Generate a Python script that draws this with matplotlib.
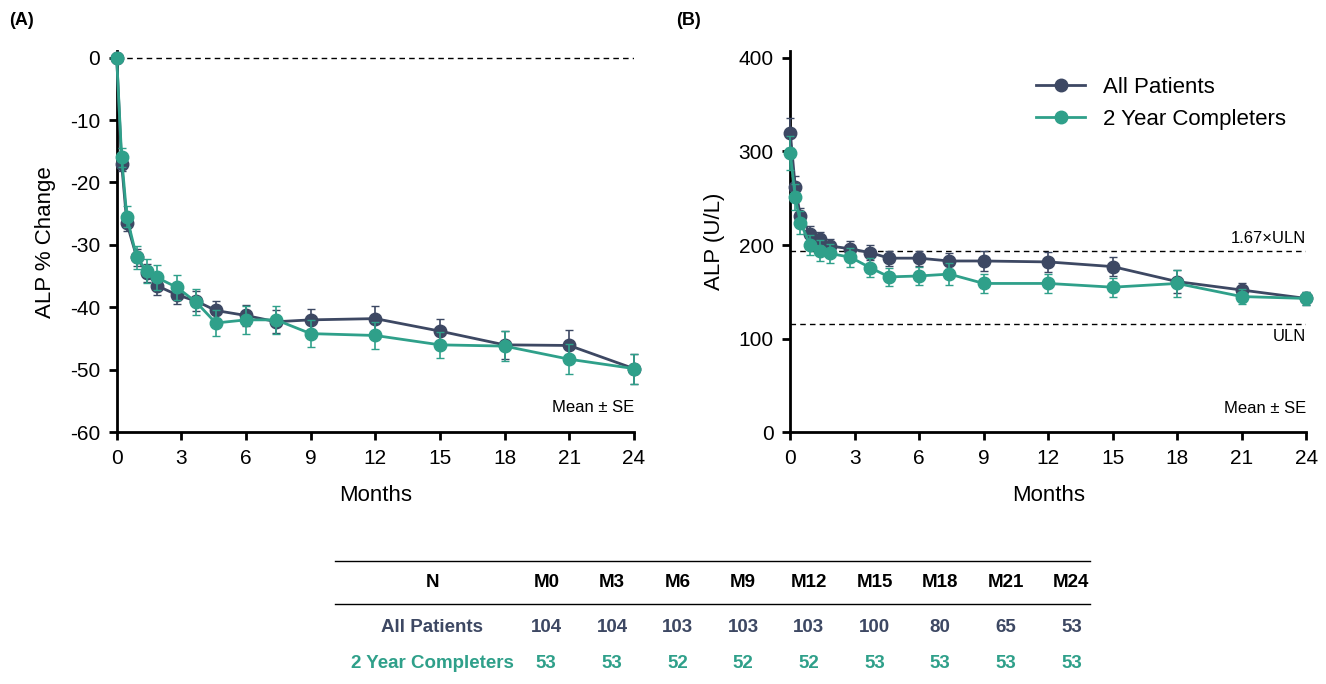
import numpy as np
import matplotlib.pyplot as plt
from matplotlib.lines import Line2D

months = [0, 0.23, 0.47, 0.93, 1.4, 1.85, 2.8, 3.7, 4.6, 6, 7.4, 9, 12, 15, 18, 21, 24]

pct_all = [0, -17, -26.5, -32, -34.5, -36.5, -38, -39, -40.5, -41.3, -42.3, -42, -41.8, -43.8, -46, -46.1, -49.8]
pct_all_se = [0, 1.2, 1.3, 1.4, 1.5, 1.5, 1.5, 1.6, 1.6, 1.7, 1.8, 1.8, 2.0, 2.0, 2.2, 2.4, 2.4]
pct_comp = [0, -16, -25.5, -32, -34.2, -35.2, -36.8, -39.2, -42.5, -42, -42, -44.2, -44.5, -46, -46.2, -48.3, -49.8]
pct_comp_se = [0, 1.5, 1.7, 1.8, 1.9, 2.0, 2.0, 2.1, 2.1, 2.2, 2.3, 2.1, 2.1, 2.1, 2.4, 2.4, 2.4]

alp_all = [320, 262, 231, 212, 206, 199, 196, 192, 186, 186, 183, 183, 182, 177, 161, 152, 143]
alp_all_se = [16, 12, 9, 8, 8, 8, 8, 8, 8, 8, 9, 11, 11, 10, 12, 8, 7]
alp_comp = [298, 251, 224, 200, 194, 191, 187, 176, 166, 167, 169, 159, 159, 155, 159, 145, 143]
alp_comp_se = [18, 14, 12, 11, 11, 10, 10, 10, 10, 10, 12, 10, 10, 10, 14, 8, 7]

ULN = 116
ULN_167 = 194

tab_cols = ["M0", "M3", "M6", "M9", "M12", "M15", "M18", "M21", "M24"]
n_all = [104, 104, 103, 103, 103, 100, 80, 65, 53]
n_comp = [53, 53, 52, 52, 52, 53, 53, 53, 53]

DARK = "#3d4863"
TEAL = "#2fa08a"

plt.rcParams["font.family"] = ["Liberation Sans", "DejaVu Sans"]
plt.rcParams["axes.unicode_minus"] = False

fig = plt.figure(figsize=(13.26, 6.84), dpi=100)
axA = fig.add_axes([0.088, 0.368, 0.39, 0.557])
axB = fig.add_axes([0.596, 0.368, 0.389, 0.557])


def draw(ax, y1, e1, y2, e2):
    ax.errorbar(months, y1, yerr=e1, color=DARK, marker="o", ms=9, lw=2,
                capsize=3, elinewidth=1.2, zorder=3, clip_on=False)
    ax.errorbar(months, y2, yerr=e2, color=TEAL, marker="o", ms=9, lw=2,
                capsize=3, elinewidth=1.2, zorder=4, clip_on=False)
    ax.set_xlim(0, 24)
    ax.set_xticks(range(0, 25, 3))
    ax.set_xlabel("Months", fontsize=16, labelpad=12)
    for s in ["top", "right"]:
        ax.spines[s].set_visible(False)
    ax.spines["left"].set_linewidth(2)
    ax.spines["bottom"].set_linewidth(2)
    ax.tick_params(labelsize=15, width=2, length=6, pad=6)


draw(axA, pct_all, pct_all_se, pct_comp, pct_comp_se)
axA.axhline(0, color="black", ls="--", lw=1, dashes=(4, 3), zorder=1)
axA.set_ylim(-60, 1)
axA.set_yticks(range(-60, 1, 10))
axA.set_ylabel("ALP % Change", fontsize=16, labelpad=10)
axA.text(24, -56, "Mean ± SE", ha="right", va="center", fontsize=12)

draw(axB, alp_all, alp_all_se, alp_comp, alp_comp_se)
axB.axhline(ULN_167, color="black", ls="--", lw=1, dashes=(4, 3), zorder=1)
axB.axhline(ULN, color="black", ls="--", lw=1, dashes=(4, 3), zorder=1)
axB.set_ylim(0, 407)
axB.set_yticks(range(0, 401, 100))
axB.set_ylabel("ALP (U/L)", fontsize=16, labelpad=10)
axB.text(24, ULN_167 + 5, "1.67×ULN", ha="right", va="bottom", fontsize=12)
axB.text(24, ULN - 6, "ULN", ha="right", va="top", fontsize=12)
axB.text(24, 25, "Mean ± SE", ha="right", va="center", fontsize=12)
handles = [Line2D([], [], color=DARK, marker="o", ms=9, lw=2),
           Line2D([], [], color=TEAL, marker="o", ms=9, lw=2)]
axB.legend(handles, ["All Patients", "2 Year Completers"], loc="upper right",
           bbox_to_anchor=(1.0, 0.985), frameon=False, fontsize=16, handlelength=2.2)

fig.text(0.007, 0.963, "(A)", fontsize=13, fontweight="bold")
fig.text(0.51, 0.963, "(B)", fontsize=13, fontweight="bold")

# N table
tx = np.linspace(0.412, 0.808, len(tab_cols))
yh, y1, y2 = 0.148, 0.083, 0.030
fig.text(0.326, yh, "N", ha="center", va="center", fontsize=13.5, fontweight="bold")
fig.text(0.326, y1, "All Patients", ha="center", va="center", fontsize=13.5, fontweight="bold", color=DARK)
fig.text(0.326, y2, "2 Year Completers", ha="center", va="center", fontsize=13.5, fontweight="bold", color=TEAL)
for x, c, a, b in zip(tx, tab_cols, n_all, n_comp):
    fig.text(x, yh, c, ha="center", va="center", fontsize=13.5, fontweight="bold")
    fig.text(x, y1, str(a), ha="center", va="center", fontsize=13.5, fontweight="bold", color=DARK)
    fig.text(x, y2, str(b), ha="center", va="center", fontsize=13.5, fontweight="bold", color=TEAL)
fig.add_artist(Line2D([0.253, 0.822], [0.18, 0.18], color="black", lw=1))
fig.add_artist(Line2D([0.253, 0.822], [0.117, 0.117], color="black", lw=1))

fig.savefig("out.png", dpi=100)
